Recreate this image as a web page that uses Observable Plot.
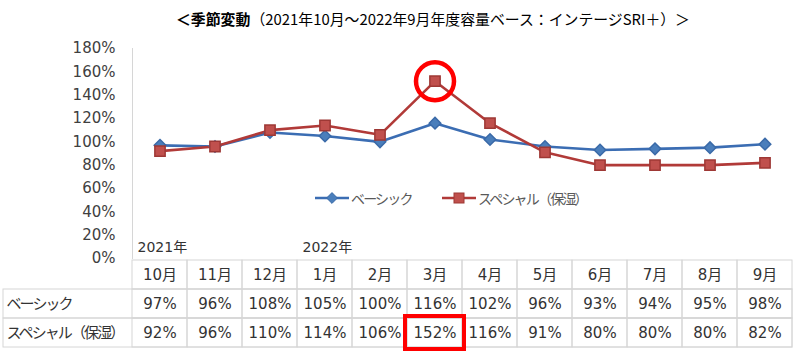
<!DOCTYPE html>
<html><head><meta charset="utf-8">
<script src="https://cdn.jsdelivr.net/npm/d3@7"></script>
<script src="https://cdn.jsdelivr.net/npm/@observablehq/plot@0.6"></script>
<style>
body{margin:0;background:#fff;}
#root{position:relative;width:800px;height:356px;overflow:hidden;font-family:"DejaVu Sans","Noto Sans CJK JP",sans-serif;}
#title{position:absolute;left:176px;top:9px;white-space:nowrap;font-family:"Noto Sans CJK JP",sans-serif;font-size:15px;line-height:20px;color:#000;transform-origin:0 0;}
#title b{font-weight:700;}
#chart{position:absolute;left:0;top:30px;}
#table{position:absolute;left:0;top:259px;}
#legend{position:absolute;left:0;top:188px;width:800px;height:22px;}
.lg{position:absolute;top:0;font-family:"Noto Sans CJK JP",sans-serif;font-size:14px;line-height:20px;color:#595959;white-space:nowrap;letter-spacing:-1.8px;}
</style></head>
<body><div id="root">
<div id="title"><b>＜季節変動</b>（2021年10月～2022年9月年度容量ベース：インテージSRI＋）＞</div>
<div id="chart"></div>
<div id="table"></div>
<div id="legend"></div>
</div>
<script>
// ---- data ----
const months = ["10月","11月","12月","1月","2月","3月","4月","5月","6月","7月","8月","9月"];
const basic = [97,96,108,105,100,116,102,96,93,94,95,98];
const special = [92,96,110,114,106,152,116,91,80,80,80,82];
const seriesNames = ["ベーシック","スペシャル（保湿）"];
const yTicks = [0,20,40,60,80,100,120,140,160,180];
const yearLabels = ["2021年","2022年"];
const yearMonths = ["10月","1月"];
const highlightMonth = "3月";

// ---- layout / style ----
const W = 800, ML = 132, MR = 8;
const BLUE = "#3b6db3", RED = "#b13a38";
const FONT = '"DejaVu Sans","Noto Sans CJK JP",sans-serif';
const GRID = "#d6d6d6";
const TXT = "#333333";

const rows = months.map((m, i) => ({month: m, basic: basic[i], special: special[i]}));
const bw = (W - ML - MR) / months.length;

const chart = Plot.plot({
  width: W, height: 229, marginTop: 18, marginBottom: 1, marginLeft: ML, marginRight: MR,
  style: {fontFamily: FONT, fontSize: "15px", color: "#404040", background: "transparent", overflow: "visible"},
  x: {type: "band", domain: months, padding: 0, axis: null},
  y: {domain: [0, 180], ticks: yTicks, tickFormat: d => d + "%", label: null, tickSize: 0, tickPadding: 17},
  marks: [
    Plot.frame({anchor: "left", stroke: GRID}),
    Plot.line(rows, {x: "month", y: "basic", stroke: BLUE, strokeWidth: 2.6}),
    Plot.line(rows, {x: "month", y: "special", stroke: RED, strokeWidth: 2.6}),
    Plot.dot(rows, {x: "month", y: "basic", symbol: "diamond2", r: 5.2, fill: "#4a7ebb", stroke: "#3a6aa8"}),
    Plot.dot(rows, {x: "month", y: "special", symbol: "square", r: 5.8, fill: "#c0504d", stroke: "#9e3835"}),
    Plot.dot(rows.filter(d => d.month === highlightMonth), {x: "month", y: "special", r: 19, stroke: "#ff0000", strokeWidth: 4.5, fill: "none"}),
    Plot.text(yearLabels, {x: (d, i) => yearMonths[i], text: d => d, frameAnchor: "bottom", textAnchor: "start", lineAnchor: "bottom", dx: -bw / 2 + 5, dy: -7, fill: TXT, fontSize: 14})
  ]
});
document.getElementById("chart").appendChild(chart);

// ---- data table ----
const ROW_KEYS = ["header", ...seriesNames];
const cells = [];
months.forEach((m, i) => {
  cells.push({month: m, row: "header", text: m});
  cells.push({month: m, row: seriesNames[0], text: basic[i] + "%"});
  cells.push({month: m, row: seriesNames[1], text: special[i] + "%"});
});
const table = Plot.plot({
  width: W, height: 97, marginTop: 0, marginBottom: 9, marginLeft: 3, marginRight: MR,
  style: {fontFamily: FONT, fontSize: "15px", color: TXT, background: "transparent", overflow: "visible"},
  x: {type: "band", domain: months, range: [ML, W - MR], padding: 0, axis: null},
  y: {type: "band", domain: ROW_KEYS, padding: 0, axis: null},
  marks: [
    Plot.cell(seriesNames, {y: d => d, stroke: GRID, fill: "none"}),
    Plot.cell(cells, {x: "month", y: "row", stroke: GRID, fill: "none"}),
    Plot.text(cells, {x: "month", y: "row", text: "text", fill: TXT, fontSize: 15}),
    Plot.text(seriesNames, {y: d => d, text: d => d, frameAnchor: "left", textAnchor: "start", dx: 3, fill: TXT, fontSize: 15, className: "rowlabel"}),
    Plot.cell(cells.filter(d => d.month === highlightMonth && d.row === seriesNames[1]), {x: "month", y: "row", stroke: "#ff0000", strokeWidth: 4, fill: "none", inset: -2})
  ]
});
d3.select(table).selectAll(".rowlabel text").attr("letter-spacing", "-1.9px");
document.getElementById("table").appendChild(table);

// ---- legend ----
const lg = document.getElementById("legend");
const items = [
  {name: seriesNames[0], color: BLUE, sym: "diamond", x: 315},
  {name: seriesNames[1], color: RED, sym: "square", x: 442}
];
items.forEach(it => {
  const sw = document.createElementNS("http://www.w3.org/2000/svg", "svg");
  sw.setAttribute("width", 36); sw.setAttribute("height", 20);
  sw.style.position = "absolute"; sw.style.left = it.x + "px"; sw.style.top = "0px";
  let s = `<line x1="0" y1="10" x2="34" y2="10" stroke="${it.color}" stroke-width="2.6"/>`;
  if (it.sym === "diamond") s += `<path d="M17,4.6L22.4,10L17,15.4L11.6,10Z" fill="#4a7ebb" stroke="#3a6aa8"/>`;
  else s += `<rect x="12" y="5" width="10" height="10" fill="#c0504d" stroke="#9e3835"/>`;
  sw.innerHTML = s;
  lg.appendChild(sw);
  const t = document.createElement("div");
  t.className = "lg"; t.style.left = (it.x + 36) + "px"; t.textContent = it.name;
  lg.appendChild(t);
});

// fit title width to reference span
const title = document.getElementById("title");
const tw = title.getBoundingClientRect().width;
title.style.transform = `scaleX(${514 / tw})`;
</script>
</body></html>
